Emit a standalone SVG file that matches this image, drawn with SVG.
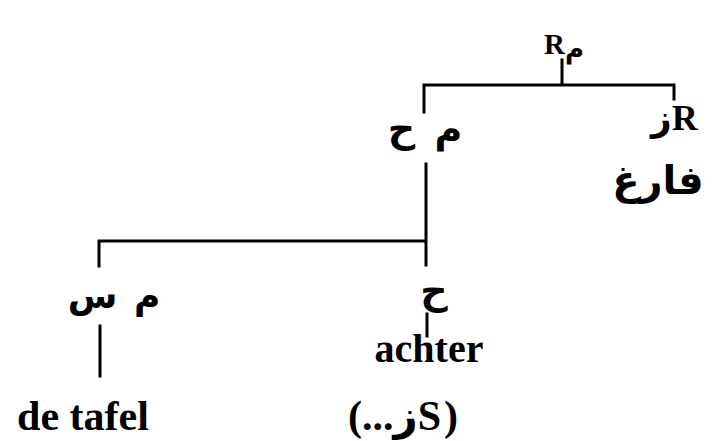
<svg xmlns="http://www.w3.org/2000/svg" width="726" height="441" viewBox="0 0 726 441">
<style>
.ln{stroke:#000;stroke-width:3;fill:none;stroke-linecap:square}
.lat{font-family:"Liberation Serif","DejaVu Sans",serif;font-weight:bold;fill:#000}
.ar{font-family:"DejaVu Sans",sans-serif;font-weight:bold;fill:#000}
.cat{font-family:"Liberation Serif","DejaVu Sans",serif;font-weight:bold;fill:#000}
</style>
<rect width="726" height="441" fill="#fff"/>
<g id="connectors">
<path class="ln" d="M562,60 V85 M424,85 H674 M424,85 V112 M674,85 V99 M426,164 V265 M99,241 H426 M99,241 V266 M100,326 V376 M427,314 V336"/>
</g>
<g id="node-top">
<text class="cat" x="544" y="54" font-size="29">R<tspan class="ar" font-size="26" dy="4">م</tspan></text>
</g>
<g id="node-mid">
<text class="ar" x="425" y="142" font-size="38" text-anchor="middle" direction="rtl" word-spacing="6">م ح</text>
</g>
<g id="node-right">
<text class="cat" x="651" y="130" font-size="36">زR</text>
<text class="ar" x="658" y="194" font-size="40" text-anchor="middle">فارغ</text>
</g>
<g id="node-ms">
<text class="ar" x="114" y="308" font-size="36" text-anchor="middle" direction="rtl" word-spacing="4">م س</text>
<text class="lat" x="83" y="430" font-size="42" text-anchor="middle">de tafel</text>
</g>
<g id="node-h">
<text class="ar" x="434" y="304" font-size="38" text-anchor="middle">ح</text>
<text class="lat" x="429" y="362" font-size="40" text-anchor="middle">achter</text>
<text class="lat" x="403" y="430" font-size="42" text-anchor="middle" letter-spacing="3">(...زS)</text>
</g>
</svg>
